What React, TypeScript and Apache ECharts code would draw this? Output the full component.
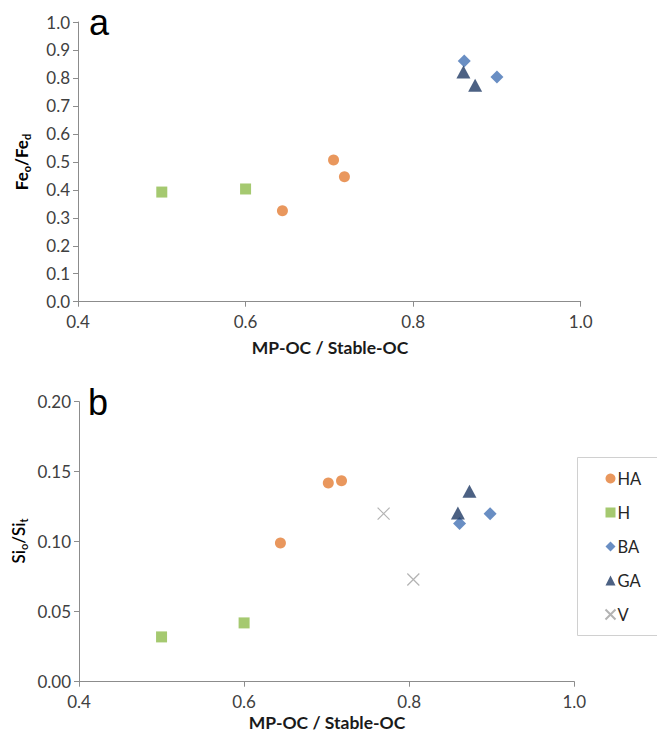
import React, { useEffect, useRef } from "react";
import * as echarts from "echarts";

const xTicks = [0.4, 0.6, 0.8, 1.0];
const seriesNames = ["HA", "H", "BA", "GA", "V"];

// Panel a: Feo/Fed
const haTop = [[0.644, 0.325], [0.705, 0.507], [0.718, 0.447]];
const hTop = [[0.5, 0.392], [0.6, 0.403]];
const baTop = [[0.861, 0.861], [0.9, 0.803]];
const gaTop = [[0.86, 0.821], [0.874, 0.774]];

// Panel b: Sio/Sit
const haBot = [[0.644, 0.099], [0.702, 0.142], [0.718, 0.1435]];
const hBot = [[0.5, 0.032], [0.6, 0.042]];
const baBot = [[0.861, 0.113], [0.898, 0.12]];
const gaBot = [[0.859, 0.1205], [0.873, 0.136]];
const vBot = [[0.769, 0.12], [0.805, 0.073]];

const CROSS = "path://M0,0L10,10M10,0L0,10";
const FONT = "Lato";

export default function App() {
  const ref = useRef<HTMLDivElement>(null);
  useEffect(() => {
    document.body.style.margin = "0";
    const chart = echarts.init(ref.current!, null, { renderer: "svg" });
    const styles: Record<string, any> = {
      HA: { symbol: "circle", symbolSize: 11, itemStyle: { color: "#E47D35" } },
      H: { symbol: "rect", symbolSize: 11, itemStyle: { color: "#8EBB4C" } },
      BA: { symbol: "diamond", symbolSize: 13, itemStyle: { color: "#4472B4" } },
      GA: { symbol: "triangle", symbolSize: [14, 13], itemStyle: { color: "#1F3A64" } },
      V: {
        symbol: CROSS,
        symbolSize: 12,
        itemStyle: { color: "none", borderColor: "#A0A0A0", borderWidth: 1.2 },
      },
    };
    const mk = (name: string, data: number[][], idx: number) => ({
      type: "scatter",
      name,
      data,
      xAxisIndex: idx,
      yAxisIndex: idx,
      ...styles[name],
    });
    const axisLine = { lineStyle: { color: "#8C8C8C", width: 1 } };
    const axisLabel = { color: "#404040", fontSize: 17, fontFamily: FONT };
    const xAxisBase = {
      type: "value",
      min: 0.4,
      max: 1.0,
      interval: 0.2,
      axisLine: { show: true, ...axisLine },
      axisTick: { show: true, length: 5, lineStyle: { color: "#8C8C8C" } },
      axisLabel: { ...axisLabel, margin: 11, formatter: (v: number) => v.toFixed(1) },
      splitLine: { show: false },
    };
    const titleRich = {
      b: { fontSize: 17, fontWeight: "bold", fontFamily: FONT, color: "#1a1a1a", lineHeight: 22, verticalAlign: "middle" },
      s: { fontSize: 11, fontWeight: "bold", fontFamily: FONT, color: "#1a1a1a", lineHeight: 22, verticalAlign: "bottom" },
      n: { fontSize: 17, fontWeight: 600, fontFamily: FONT, color: "#1a1a1a", lineHeight: 22, verticalAlign: "middle" },
      t: { fontSize: 11, fontWeight: 600, fontFamily: FONT, color: "#1a1a1a", lineHeight: 22, verticalAlign: "bottom" },
    };
    chart.setOption({
      animation: false,
      grid: [
        { left: 78, width: 502.7, top: 22, height: 279.7 },
        { left: 79, width: 495.3, top: 401.7, height: 280 },
      ],
      xAxis: [
        { ...xAxisBase, gridIndex: 0 },
        { ...xAxisBase, gridIndex: 1 },
      ],
      yAxis: [
        {
          type: "value",
          gridIndex: 0,
          min: 0,
          max: 1,
          interval: 0.1,
          axisLine: { show: true, ...axisLine },
          axisTick: { show: true, length: 5, lineStyle: { color: "#8C8C8C" } },
          axisLabel: { ...axisLabel, margin: 8, formatter: (v: number) => v.toFixed(1) },
          splitLine: { show: false },
        },
        {
          type: "value",
          gridIndex: 1,
          min: 0,
          max: 0.2,
          interval: 0.05,
          axisLine: { show: true, ...axisLine },
          axisTick: { show: true, length: 5, lineStyle: { color: "#8C8C8C" } },
          axisLabel: { ...axisLabel, margin: 8, formatter: (v: number) => v.toFixed(2) },
          splitLine: { show: false },
        },
      ],
      legend: {
        orient: "vertical",
        left: 603,
        top: 470,
        itemWidth: 10,
        itemHeight: 10,
        itemGap: 17,
        padding: 0,
        data: seriesNames,
        textStyle: { color: "#262626", fontSize: 16.5, fontFamily: FONT, lineHeight: 17, padding: [0, 0, 0, -3] },
      },
      graphic: [
        {
          type: "rect",
          left: 577,
          top: 457,
          shape: { width: 100, height: 178 },
          style: { fill: "#fff", stroke: "#D0D0D0", lineWidth: 1 },
          z: -1,
        },
        {
          type: "text",
          left: 89,
          top: 4,
          style: { text: "a", fontSize: 36, fontFamily: "Liberation Sans", fill: "#000" },
        },
        {
          type: "text",
          left: 88,
          top: 384,
          style: { text: "b", fontSize: 36, fontFamily: "Liberation Sans", fill: "#000" },
        },
        {
          type: "text",
          x: 330,
          y: 347,
          style: { text: "MP-OC / Stable-OC", fontSize: 17.5, fontWeight: "bold", fontFamily: FONT, fill: "#1a1a1a", align: "center", verticalAlign: "middle" },
        },
        {
          type: "text",
          x: 327,
          y: 722,
          style: { text: "MP-OC / Stable-OC", fontSize: 17.5, fontWeight: "bold", fontFamily: FONT, fill: "#1a1a1a", align: "center", verticalAlign: "middle" },
        },
        {
          type: "text",
          x: 21,
          y: 162,
          rotation: Math.PI / 2,
          style: { text: "{b|Fe}{s|o}{b|/Fe}{s|d}", rich: titleRich, align: "center", verticalAlign: "middle" },
        },
        {
          type: "text",
          x: 18,
          y: 541,
          rotation: Math.PI / 2,
          style: { text: "{n|Si}{t|o}{n|/Si}{t|t}", rich: titleRich, align: "center", verticalAlign: "middle" },
        },
      ],
      series: [
        mk("HA", haTop, 0),
        mk("H", hTop, 0),
        mk("BA", baTop, 0),
        mk("GA", gaTop, 0),
        mk("HA", haBot, 1),
        mk("H", hBot, 1),
        mk("BA", baBot, 1),
        mk("GA", gaBot, 1),
        mk("V", vBot, 1),
      ],
    });
    return () => chart.dispose();
  }, []);
  return <div ref={ref} style={{ width: 657, height: 735 }} />;
}
